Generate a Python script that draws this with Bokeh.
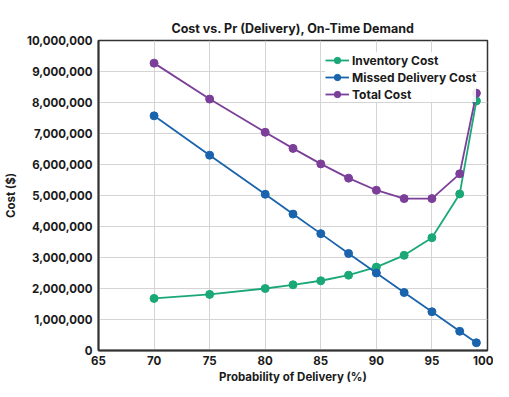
from bokeh.plotting import figure
from bokeh.models import FixedTicker, NumeralTickFormatter, Legend, LegendItem
from bokeh.embed import file_html
from bokeh.resources import INLINE

prob = [70, 75, 80, 82.5, 85, 87.5, 90, 92.5, 95, 97.5, 99]
inventory = [1680000, 1810000, 2000000, 2120000, 2250000, 2430000, 2690000, 3070000, 3640000, 5050000, 8050000]
missed = [7570000, 6300000, 5040000, 4400000, 3770000, 3130000, 2500000, 1870000, 1250000, 620000, 250000]
total = [9270000, 8110000, 7040000, 6520000, 6020000, 5560000, 5170000, 4900000, 4900000, 5700000, 8300000]

series = [("Inventory Cost", inventory, "#1ba877"),
          ("Missed Delivery Cost", missed, "#1a64ad"),
          ("Total Cost", total, "#7b3f99")]

FONT = "Inter"
TXT = "#1a1a1a"

p = figure(width=493, height=389, x_range=(65, 100), y_range=(0, 10000000),
           output_backend="svg", toolbar_location=None,
           title="Cost vs. Pr (Delivery), On-Time Demand",
           min_border_left=97, min_border_right=6, min_border_top=40, min_border_bottom=39)

p.title.align = "center"
p.title.text_font = FONT
p.title.text_font_size = "12.5px"
p.title.text_font_style = "bold"
p.title.text_color = TXT

items = []
for name, vals, col in series:
    r1 = p.line(prob, vals, line_color=col, line_width=1.8)
    r2 = p.scatter(prob, vals, size=8, fill_color=col, line_color=col)
    items.append(LegendItem(label=name, renderers=[r1, r2]))

legend = Legend(items=items, location=(227, 248))
legend.label_text_font = FONT
legend.label_text_font_size = "12px"
legend.label_text_font_style = "bold"
legend.label_text_color = TXT
legend.border_line_color = None
legend.background_fill_alpha = 0.9
legend.glyph_width = 24
legend.glyph_height = 16
legend.label_height = 16
legend.spacing = 1
legend.padding = 3
legend.margin = 0
legend.label_standoff = 3
p.add_layout(legend)

p.xaxis.ticker = FixedTicker(ticks=[65, 70, 75, 80, 85, 90, 95, 100])
p.yaxis.ticker = FixedTicker(ticks=list(range(0, 10000001, 1000000)))
p.yaxis.formatter = NumeralTickFormatter(format="0,0")

for ax in (p.xaxis, p.yaxis):
    ax.major_tick_line_color = None
    ax.minor_tick_line_color = None
    ax.major_tick_out = 0
    ax.major_tick_in = 0
    ax.minor_tick_out = 0
    ax.minor_tick_in = 0
    ax.axis_line_color = "#333333"
    ax.axis_line_width = 2
    ax.major_label_text_font = FONT
    ax.major_label_text_font_size = "11.5px"
    ax.major_label_text_font_style = "bold"
    ax.major_label_text_color = TXT
    ax.axis_label_text_font = FONT
    ax.axis_label_text_font_size = "11.5px"
    ax.axis_label_text_font_style = "bold"
    ax.axis_label_text_color = TXT

p.xaxis.axis_label = "Probability of Delivery (%)"
p.yaxis.axis_label = "Cost ($)"
p.xaxis.major_label_standoff = 5
p.yaxis.major_label_standoff = 6
p.xaxis.axis_label_standoff = 2
p.yaxis.axis_label_standoff = 6

p.xgrid.grid_line_color = "#d4d4d4"
p.ygrid.grid_line_color = "#d4d4d4"
p.outline_line_color = "#333333"
p.outline_line_width = 1.5

open("out.html", "w").write(file_html(p, INLINE))
